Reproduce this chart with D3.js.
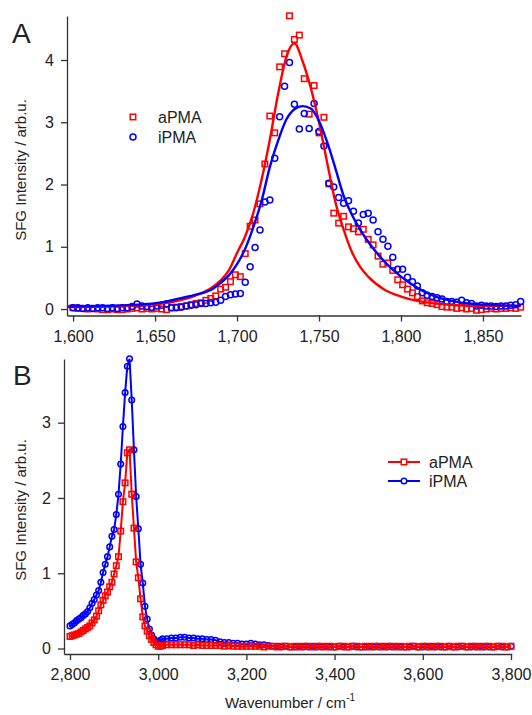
<!DOCTYPE html>
<html lang="en">
	<head>
		<meta charset="UTF-8">
		<title>SFG spectra</title>
		<script src="https://d3js.org/d3.v7.min.js"></script>
		<style>
			body { margin: 0; background: #fff; }
			text { font-family: "Liberation Sans", Arial, sans-serif; fill: #222; }
		</style>
	</head>
	<body>
		<script>
			// panel A: C=O region
			var wnA = [1600,1603,1606,1609,1612,1615,1618,1621,1624,1627,
				1630,1633,1636,1639,1642,1645,1648,1651,1654,1657,
				1660,1663,1666,1669,1672,1675,1678,1681,1684,1687,
				1690,1693,1696,1699,1702,1705,1708,1711,1714,1717,
				1720,1723,1726,1729,1732,1735,1738,1741,1744,1747,
				1750,1753,1756,1759,1762,1765,1768,1771,1774,1777,
				1780,1783,1786,1789,1792,1795,1798,1801,1804,1807,
				1810,1813,1816,1819,1822,1825,1828,1831,1834,1837,
				1840,1843,1846,1849,1852,1855,1858,1861,1864,1867,
				1870,1873];
			var aPMA_A = [0.02,0.01,0.01,0.00,0.01,0.00,-0.01,-0.01,0.00,-0.01,
				-0.01,0.00,0.01,0.02,0.00,0.01,0.00,0.01,0.00,-0.01,
				0.02,0.03,0.04,0.05,0.07,0.09,0.10,0.14,0.17,0.21,
				0.32,0.35,0.44,0.55,0.52,0.89,1.33,1.43,1.69,2.33,
				3.10,2.83,3.89,4.10,4.71,4.33,4.40,3.70,3.13,3.59,
				2.83,3.08,2.01,1.54,1.38,1.49,1.32,1.29,1.24,1.28,
				1.12,1.03,0.85,0.72,0.74,0.62,0.47,0.39,0.32,0.26,
				0.20,0.13,0.10,0.09,0.07,0.04,0.03,0.03,0.01,0.02,
				0.00,0.01,-0.02,-0.01,0.00,0.01,0.00,0.01,0.01,0.02,
				0.01,0.03];
			var iPMA_A = [0.02,0.02,0.01,0.02,0.01,0.02,0.02,0.01,0.02,0.01,
				0.02,0.02,0.04,0.08,0.05,0.04,0.03,0.05,0.06,0.08,
				0.02,0.02,0.03,0.05,0.06,0.07,0.09,0.09,0.10,0.11,
				0.14,0.20,0.23,0.24,0.25,0.43,0.68,0.99,1.27,1.72,
				1.75,2.42,3.09,3.58,3.96,3.29,2.89,3.14,2.90,3.30,
				2.85,2.62,2.02,1.96,1.79,1.70,1.74,1.57,1.38,1.52,
				1.54,1.43,1.24,1.12,1.01,0.83,0.64,0.64,0.51,0.44,
				0.37,0.26,0.22,0.20,0.18,0.16,0.12,0.12,0.11,0.14,
				0.10,0.09,0.05,0.06,0.05,0.05,0.04,0.05,0.05,0.06,
				0.07,0.12];
			// fitted curves
			var fitWnA = [1597,1620,1640,1655,1665,1675,1685,1690,1695,1700,1705,1710,1715,1720,1725,1730,1735,
				1740,1745,1750,1755,1760,1765,1770,1775,1780,1790,1800,1810,1820,1835,1850,1873];
			var fitA_a = [0.03,0.04,0.06,0.09,0.14,0.22,0.35,0.46,0.62,0.90,1.17,1.55,2.08,2.72,3.45,4.04,4.27,
				3.98,3.55,3.00,2.35,1.72,1.28,0.92,0.68,0.52,0.31,0.20,0.13,0.09,0.06,0.05,0.05];
			var fitA_i = [0.04,0.05,0.07,0.11,0.17,0.23,0.32,0.42,0.54,0.72,0.97,1.32,1.74,2.28,2.70,3.04,3.21,
				3.26,3.22,3.02,2.68,2.26,1.82,1.52,1.28,1.08,0.76,0.52,0.34,0.21,0.11,0.07,0.05];
			var xTicksA = [1600,1650,1700,1750,1800,1850];
			var yTicksA = [0,1,2,3,4];

			// panel B: C-H region
			var wnB = [2800,2805,2810,2815,2820,2825,2830,2835,2840,2845,
				2850,2855,2860,2865,2870,2875,2880,2885,2890,2895,
				2900,2905,2910,2915,2920,2925,2930,2935,2940,2945,
				2950,2955,2960,2965,2970,2975,2980,2985,2990,2995,
				3000,3005,3010,
				3020,3030,3040,3050,3060,3070,3080,3090,3100,3110,
				3120,3130,3140,3150,3160,3170,3180,3190,3200,3210,
				3220,3230,3240,3250,3260,3270,3280,3290,3300,3310,
				3320,3330,3340,3350,3360,3370,3380,3390,3400,3410,
				3420,3430,3440,3450,3460,3470,3480,3490,3500,3510,
				3520,3530,3540,3550,3560,3570,3580,3590,3600,3610,
				3620,3630,3640,3650,3660,3670,3680,3690,3700,3710,
				3720,3730,3740,3750,3760,3770,3780,3790,3800];
			var iPMA_B = [0.30,0.32,0.34,0.37,0.39,0.41,0.44,0.46,0.49,0.54,
				0.60,0.65,0.71,0.77,0.88,1.01,1.12,1.22,1.35,1.49,
				1.58,1.78,2.05,2.45,2.95,3.40,3.75,3.85,3.30,2.64,
				2.02,1.59,1.12,0.87,0.56,0.39,0.26,0.18,0.13,0.10,
				0.09,0.11,0.13,
				0.13,0.14,0.14,0.15,0.15,0.14,0.14,0.13,0.13,0.12,
				0.12,0.11,0.09,0.08,0.08,0.07,0.07,0.06,0.06,0.07,
				0.06,0.05,0.05,0.04,0.03,0.03,0.02,0.03,0.02,0.02,
				0.03,0.02,0.02,0.03,0.02,0.02,0.03,0.02,0.02,0.03,
				0.02,0.02,0.03,0.02,0.02,0.02,0.03,0.02,0.02,0.03,
				0.02,0.02,0.03,0.02,0.02,0.02,0.03,0.02,0.02,0.02,
				0.03,0.02,0.02,0.02,0.03,0.02,0.02,0.03,0.02,0.02,
				0.02,0.03,0.02,0.02,0.02,0.03,0.02,0.02,0.03];
			var aPMA_B = [0.16,0.17,0.18,0.19,0.20,0.22,0.24,0.26,0.28,0.30,
				0.34,0.38,0.43,0.50,0.58,0.64,0.70,0.75,0.82,0.88,
				0.99,1.10,1.22,1.56,1.95,2.20,2.60,2.64,2.05,1.60,
				1.15,0.94,0.66,0.42,0.30,0.23,0.17,0.12,0.08,0.05,
				0.03,0.03,0.04,
				0.05,0.05,0.05,0.05,0.05,0.05,0.04,0.05,0.04,0.04,
				0.04,0.04,0.04,0.03,0.04,0.03,0.03,0.03,0.03,0.03,
				0.03,0.03,0.02,0.03,0.03,0.02,0.03,0.03,0.02,0.03,
				0.02,0.03,0.03,0.02,0.03,0.03,0.02,0.03,0.02,0.03,
				0.03,0.02,0.03,0.03,0.02,0.03,0.02,0.03,0.03,0.02,
				0.03,0.03,0.02,0.03,0.02,0.03,0.03,0.02,0.03,0.03,
				0.02,0.03,0.03,0.02,0.03,0.02,0.03,0.03,0.02,0.03,
				0.03,0.02,0.03,0.03,0.02,0.03,0.03,0.02,0.03];
			var xTicksB = [2800,3000,3200,3400,3600,3800];
			var yTicksB = [0,1,2,3];

			var seriesNames = ['aPMA', 'iPMA'];
			var red = '#ff0000', blue = '#0000ff';

			var width = 532, height = 715;
			var svg = d3.select('body').append('svg')
				.attr('width', width)
				.attr('height', height);

			function zip(xs, ys) {
				return xs.map(function(x, i) { return [x, ys[i]]; });
			}

			function drawAxes(x, y, xTicks, yTicks, left, bottom) {
				var fmt = d3.format(',');
				var gx = svg.append('g')
					.attr('transform', 'translate(0,' + bottom + ')')
					.call(d3.axisBottom(x).tickValues(xTicks).tickFormat(fmt)
						.tickSize(6).tickSizeOuter(0).tickPadding(9));
				var gy = svg.append('g')
					.attr('transform', 'translate(' + left + ',0)')
					.call(d3.axisLeft(y).tickValues(yTicks).tickFormat(d3.format('d'))
						.tickSize(6).tickSizeOuter(0).tickPadding(7));
				[gx, gy].forEach(function(g) {
					g.attr('font-family', null).attr('font-size', 16);
					g.selectAll('path, line').attr('stroke', '#333').attr('stroke-width', 1.3);
					g.selectAll('text').attr('fill', '#222');
				});
			}

			function squares(g, pts, x, y, s, color) {
				g.selectAll(null).data(pts).enter().append('rect')
					.attr('x', function(d) { return x(d[0]) - s / 2; })
					.attr('y', function(d) { return y(d[1]) - s / 2; })
					.attr('width', s).attr('height', s)
					.attr('fill', 'none').attr('stroke', color).attr('stroke-width', 1.5);
			}

			function circles(g, pts, x, y, r, color) {
				g.selectAll(null).data(pts).enter().append('circle')
					.attr('cx', function(d) { return x(d[0]); })
					.attr('cy', function(d) { return y(d[1]); })
					.attr('r', r)
					.attr('fill', 'none').attr('stroke', color).attr('stroke-width', 1.5);
			}

			// ---------- panel A ----------
			var xA = d3.scaleLinear().domain([1596.3, 1873.2]).range([67, 521]);
			var yA = d3.scaleLinear().domain([-0.104, 4.707]).range([315.5, 16]);
			drawAxes(xA, yA, xTicksA, yTicksA, 67, 315.5);

			var gA = svg.append('g');
			squares(gA, zip(wnA, aPMA_A), xA, yA, 5.5, red);
			circles(gA, zip(wnA, iPMA_A), xA, yA, 3, blue);

			var lineA = d3.line()
				.x(function(d) { return xA(d[0]); })
				.y(function(d) { return yA(d[1]); })
				.curve(d3.curveMonotoneX);
			gA.append('path').datum(zip(fitWnA, fitA_a))
				.attr('d', lineA).attr('fill', 'none').attr('stroke', red).attr('stroke-width', 2.4);
			gA.append('path').datum(zip(fitWnA, fitA_i))
				.attr('d', lineA).attr('fill', 'none').attr('stroke', blue).attr('stroke-width', 2.4);

			// legend A
			var legA = svg.append('g');
			legA.append('rect').attr('x', 130.2).attr('y', 114.2).attr('width', 5.5).attr('height', 5.5)
				.attr('fill', 'none').attr('stroke', red).attr('stroke-width', 1.5);
			legA.append('circle').attr('cx', 133).attr('cy', 137).attr('r', 3)
				.attr('fill', 'none').attr('stroke', blue).attr('stroke-width', 1.5);
			legA.selectAll('text').data(seriesNames).enter().append('text')
				.attr('x', 158)
				.attr('y', function(d, i) { return 117 + i * 20 + 6; })
				.attr('font-size', 16)
				.text(function(d) { return d; });

			svg.append('text').attr('x', 12).attr('y', 43).attr('font-size', 28).text('A');
			svg.append('text')
				.attr('transform', 'translate(26,170) rotate(-90)')
				.attr('text-anchor', 'middle').attr('font-size', 15)
				.text('SFG Intensity / arb.u.');

			// ---------- panel B ----------
			var xB = d3.scaleLinear().domain([2786.4, 3801.6]).range([64, 511.7]);
			var yB = d3.scaleLinear().domain([-0.073, 3.846]).range([654, 359]);
			drawAxes(xB, yB, xTicksB, yTicksB, 64, 654);

			var lineB = d3.line()
				.x(function(d) { return xB(d[0]); })
				.y(function(d) { return yB(d[1]); });
			var gB = svg.append('g');
			gB.append('path').datum(zip(wnB, iPMA_B))
				.attr('d', lineB).attr('fill', 'none').attr('stroke', blue).attr('stroke-width', 2);
			circles(gB, zip(wnB, iPMA_B), xB, yB, 2.8, blue);
			gB.append('path').datum(zip(wnB, aPMA_B))
				.attr('d', lineB).attr('fill', 'none').attr('stroke', red).attr('stroke-width', 2);
			squares(gB, zip(wnB, aPMA_B), xB, yB, 5.5, red);

			// legend B
			var legB = svg.append('g');
			[462, 481].forEach(function(ly, i) {
				var c = i === 0 ? red : blue;
				legB.append('line').attr('x1', 388).attr('x2', 420).attr('y1', ly).attr('y2', ly)
					.attr('stroke', c).attr('stroke-width', 2);
				if (i === 0) {
					legB.append('rect').attr('x', 401.2).attr('y', ly - 2.8).attr('width', 5.5).attr('height', 5.5)
						.attr('fill', '#fff').attr('stroke', c).attr('stroke-width', 1.5);
				} else {
					legB.append('circle').attr('cx', 404).attr('cy', ly).attr('r', 2.8)
						.attr('fill', '#fff').attr('stroke', c).attr('stroke-width', 1.5);
				}
				legB.append('text').attr('x', 429).attr('y', ly + 6).attr('font-size', 16).text(seriesNames[i]);
			});

			svg.append('text').attr('x', 13).attr('y', 385).attr('font-size', 28).text('B');
			svg.append('text')
				.attr('transform', 'translate(26,510) rotate(-90)')
				.attr('text-anchor', 'middle').attr('font-size', 15)
				.text('SFG Intensity / arb.u.');

			var xt = svg.append('text').attr('x', 290).attr('y', 708)
				.attr('text-anchor', 'middle').attr('font-size', 15);
			xt.append('tspan').text('Wavenumber / cm');
			xt.append('tspan').attr('dy', -7).attr('font-size', 10).text('-1');
		</script>
	</body>
</html>
